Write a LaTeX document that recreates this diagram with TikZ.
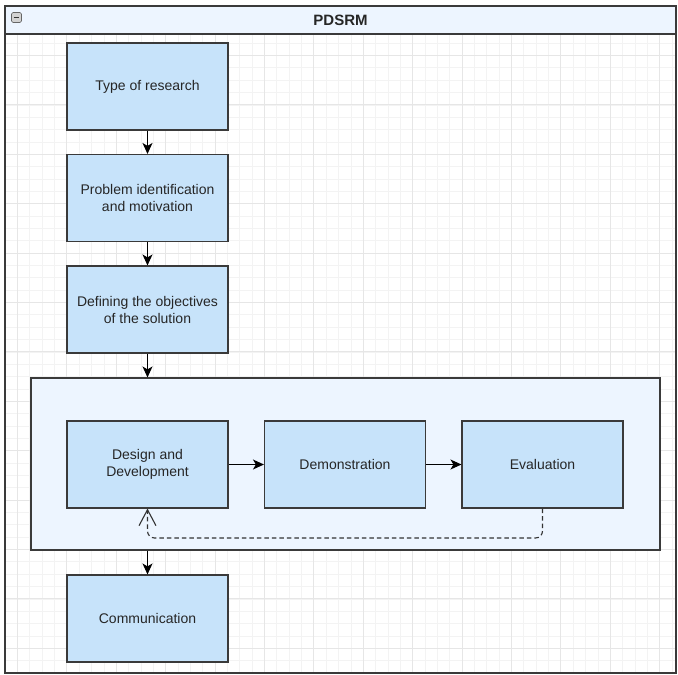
\documentclass[tikz,border=0pt]{standalone}
\usepackage{fontspec}
\setmainfont{Liberation Sans}
\usepackage{tikz}
\usetikzlibrary{arrows.meta, positioning, fit}

\definecolor{boxfill}{HTML}{C7E3FA}
\definecolor{lanefill}{HTML}{EDF5FF}
\definecolor{edgegray}{HTML}{3A3A3A}
\definecolor{minorgrid}{HTML}{F3F3F3}
\definecolor{majorgrid}{HTML}{E6E6E6}

\begin{document}
\begin{tikzpicture}[
        x=1pt, y=-1pt,
        every node/.style={font=\fontsize{14}{17}\selectfont, text=black!85, align=center},
        stepbox/.style={draw=edgegray, line width=1.1pt, fill=boxfill, minimum width=161pt, minimum height=87pt, inner sep=0pt},
        flow/.style={->, >={Stealth[length=11pt, width=10pt, inset=3pt]}, line width=1.1pt, black},
        back/.style={->, >={Straight Barb[length=16pt, width=17pt, line width=1.1pt]}, line width=1.1pt, black!80, dash pattern=on 4.5pt off 3pt, rounded corners=7pt}
    ]
    \useasboundingbox (0,0) rectangle (678,675);
    % Swimlane and grid
    \node[draw=none, fill=white, minimum width=671pt, minimum height=667pt, inner sep=0pt] (pdsrm) at (340.5,339.5) {};
    \begin{scope}
        \clip (5,34) rectangle (676,673);
        \draw[minorgrid, line width=0.6pt, shift={(5,6)}, step=12.35pt] (0,0) grid (671,667);
        \draw[majorgrid, line width=0.8pt, shift={(17.35,6)}, step=49.4pt] (-49.4,0) grid (671,667);
    \end{scope}
    \node[draw=edgegray, line width=1.3pt, fill=lanefill, minimum width=671pt, minimum height=28pt, inner sep=0pt, font=\fontsize{15}{17}\selectfont\bfseries] (header) at (340.5,20) {PDSRM};
    \draw[edgegray, line width=1.5pt] (pdsrm.north west) rectangle (pdsrm.south east);
    \node[draw=gray!80!black, fill=gray!35, rounded corners=1.5pt, minimum width=10pt, minimum height=10pt, inner sep=0pt, line width=0.6pt] (fold) at (16.5,17.5) {};
    \draw[black!80, line width=1.3pt] ([xshift=2.5pt]fold.west) -- ([xshift=-2.5pt]fold.east);
    % Define nodes
    \node[draw=edgegray, line width=1.1pt, fill=lanefill, minimum width=629pt, minimum height=172pt] (cycle) at (345.5,464) {};
    \node[stepbox] (type) at (147.5,86.5) {Type of research};
    \node[stepbox] (problem) at (147.5,198) {Problem identification\\and motivation};
    \node[stepbox] (objectives) at (147.5,309.5) {Defining the objectives\\of the solution};
    \node[stepbox] (design) at (147.5,464.5) {Design and\\Development};
    \node[stepbox] (demo) at (345,464.5) {Demonstration};
    \node[stepbox] (eval) at (542.5,464.5) {Evaluation};
    \node[stepbox] (comm) at (147.5,618.5) {Communication};
    \coordinate (loop) at (0,538);
    % Draw edges
    \draw[flow] (type) -- (problem);
    \draw[flow] (problem) -- (objectives);
    \draw[flow] (objectives) -- (objectives.south |- cycle.north);
    \draw[flow] (design) -- (demo);
    \draw[flow] (demo) -- (eval);
    \draw[flow] (comm.north |- cycle.south) -- (comm);
    \draw[back] (eval.south) -- (eval.south |- loop) -- (design.south |- loop) -- (design.south);
\end{tikzpicture}
\end{document}
